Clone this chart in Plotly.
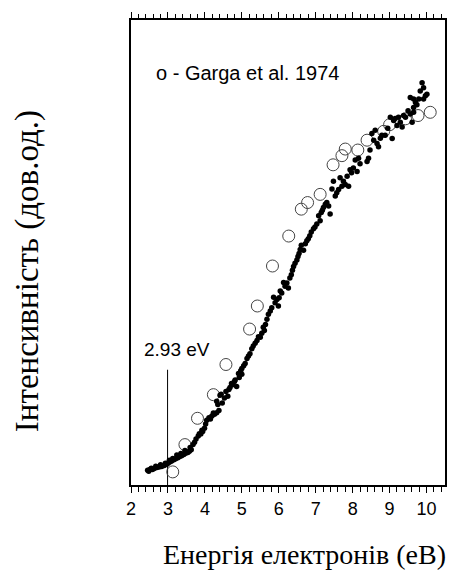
import plotly.graph_objects as go

# Experimental data (black dots): energy in eV, intensity in arbitrary units
dots_x = [2.45, 2.51, 2.58, 2.63, 2.70, 2.76, 2.83, 2.90, 2.97, 3.01, 3.06, 3.10, 3.16, 3.21, 3.27,
          3.32, 3.37, 3.43, 3.48, 3.54, 3.58, 3.63, 3.72, 3.76, 3.82, 3.89, 3.94, 3.99, 4.05, 4.11,
          4.19, 4.26, 4.32, 4.38, 4.35, 4.32, 4.41, 4.47, 4.53, 4.62, 4.68, 4.75, 4.80, 4.86, 4.93,
          5.00, 4.82, 4.91, 5.00, 5.09, 5.14, 5.22, 5.27, 5.36, 5.41, 5.50, 5.54, 5.61, 5.68, 5.72,
          5.77, 5.81, 5.90, 5.95, 6.01, 5.99, 6.08, 6.17, 6.22, 6.26, 6.34, 6.40, 6.44, 6.49, 6.55,
          6.61, 6.67, 6.72, 6.80, 6.88, 6.94, 7.03, 7.12, 7.08, 7.15, 7.21, 7.30, 7.39, 7.35, 7.53,
          7.57, 7.62, 7.71, 7.80, 7.89, 7.48, 7.75, 7.85, 7.93, 8.02, 8.12, 8.07, 8.16, 8.39, 8.43,
          8.52, 8.61, 8.66, 8.70, 8.79, 8.88, 9.07, 9.02, 9.11, 9.20, 9.29, 9.34, 9.24, 9.43, 9.56,
          9.65, 9.61, 9.65, 9.70, 9.56, 9.65, 9.79, 9.92, 9.97, 9.83, 10.01, 9.92, 9.88,
          2.48, 2.55, 2.67, 2.80, 2.93, 3.04, 3.13, 3.24, 3.35, 3.46, 3.60, 3.68, 3.85, 3.92,
          4.02, 4.15, 4.23, 4.44, 4.57, 4.65, 4.72, 4.97, 5.05, 5.18, 5.31, 5.45, 5.58, 5.64,
          5.86, 6.04, 6.13, 6.30, 6.37, 6.52, 6.58, 6.76, 6.84, 6.98, 7.18, 7.26, 7.44, 7.66,
          7.97, 8.20, 8.47, 8.57, 8.75, 8.95, 9.15, 9.38, 9.50, 9.74]
dots_y = [15.0, 15.7, 15.7, 16.7, 17.7, 18.3, 18.7, 19.7, 21.0, 22.3, 23.7, 24.3, 25.7, 26.7, 27.7,
          29.0, 29.7, 31.0, 32.3, 33.0, 34.3, 35.7, 43.3, 46.7, 49.7, 51.7, 54.3, 57.7, 65.7, 68.3,
          70.0, 71.7, 73.3, 75.7, 81.7, 85.0, 91.0, 83.3, 88.3, 90.0, 99.0, 101.7, 105.0, 100.0, 109.0,
          112.3, 106.7, 113.3, 118.3, 123.3, 128.3, 133.3, 138.3, 144.0, 146.7, 150.0, 154.0, 156.7, 168.3, 173.3,
          176.7, 180.0, 185.0, 188.3, 190.0, 181.7, 195.0, 201.7, 205.0, 200.0, 213.3, 221.7, 225.0, 228.3, 235.0,
          243.3, 238.3, 245.0, 250.0, 256.7, 260.0, 265.0, 268.3, 273.3, 276.7, 281.7, 286.7, 275.0, 283.3, 293.3,
          296.7, 300.0, 303.3, 305.0, 303.3, 308.3, 308.3, 313.3, 320.0, 321.7, 318.3, 330.0, 331.7, 328.3, 331.7,
          356.7, 360.0, 346.7, 343.3, 355.0, 355.0, 351.7, 373.3, 370.0, 365.0, 368.3, 363.3, 373.3, 373.3, 376.7,
          378.3, 368.3, 383.3, 388.3, 393.3, 391.7, 391.7, 391.7, 395.0, 400.0, 396.7, 403.3, 408.3,
          14.0, 17.0, 19.0, 20.5, 22.0, 25.0, 27.0, 30.5, 32.0, 35.0, 38.0, 41.0, 52.0, 55.5,
          62.0, 67.0, 73.0, 92.0, 95.0, 97.0, 103.0, 116.0, 121.0, 131.0, 141.0, 150.5, 160.0, 163.0,
          190.5, 197.0, 205.5, 210.0, 218.0, 232.0, 239.0, 248.0, 253.0, 262.0, 279.0, 285.0, 300.5, 312.0,
          317.0, 326.0, 340.0, 350.0, 352.0, 362.0, 372.0, 375.0, 380.0, 386.0]

# Garga et al. 1974 (open circles)
garga_x = [3.13, 3.46, 3.80, 4.23, 4.57, 5.21, 5.42, 5.83, 6.27, 6.61, 6.78, 7.12, 7.47, 7.71,
           7.80, 8.14, 8.39, 8.84, 9.00, 9.43, 9.77, 10.10]
garga_y = [13.3, 41.0, 67.7, 91.7, 122.3, 158.3, 181.7, 222.3, 252.7, 280.0, 286.7, 295.0, 325.0, 334.3,
           341.0, 340.0, 350.0, 359.0, 365.7, 371.7, 375.0, 378.3]

# Threshold marker
threshold_x = [2.99, 2.99]
threshold_y = [0, 117]

x_range = [2, 10.5]
y_range = [0, 472]

fig = go.Figure()
fig.add_trace(go.Scatter(x=threshold_x, y=threshold_y, mode="lines",
                         line=dict(color="black", width=1), showlegend=False, hoverinfo="skip"))
fig.add_trace(go.Scatter(x=garga_x, y=garga_y, mode="markers",
                         marker=dict(symbol="circle-open", size=12, color="#444444",
                                     line=dict(width=1, color="#444444")),
                         showlegend=False))
fig.add_trace(go.Scatter(x=dots_x, y=dots_y, mode="markers",
                         marker=dict(symbol="circle", size=5.5, color="black"),
                         showlegend=False))

tickfont = dict(family="Liberation Sans, Arial, sans-serif", size=18, color="black")
labelfont = dict(family="Liberation Sans, Arial, sans-serif", size=20, color="black")
fig.update_layout(
    width=476, height=577,
    margin=dict(l=131, r=31, t=13, b=92),
    paper_bgcolor="white", plot_bgcolor="white",
    xaxis=dict(range=x_range, tickmode="linear", tick0=2, dtick=1,
               ticks="outside", ticklen=6, tickwidth=1, tickcolor="black",
               minor=dict(ticks="outside", dtick=0.2, ticklen=4.5, tickwidth=1, tickcolor="black"),
               showline=True, linecolor="black", linewidth=2, mirror="allticks",
               showgrid=False, zeroline=False, tickfont=tickfont),
    yaxis=dict(range=y_range, showticklabels=False, ticks="",
               showline=True, linecolor="black", linewidth=2, mirror=True,
               showgrid=False, zeroline=False),
    annotations=[
        dict(x=2.62, y=418, xref="x", yref="y", text="o - Garga et al. 1974", showarrow=False,
             xanchor="left", yanchor="middle", font=labelfont),
        dict(x=2.30, y=138, xref="x", yref="y", text="2.93 eV", showarrow=False,
             xanchor="left", yanchor="middle", font=dict(tickfont, size=19)),
        dict(x=0.551, y=-0.150, xref="paper", yref="paper", text="Енергія електронів (eВ)",
             showarrow=False, xanchor="center", yanchor="middle",
             font=dict(family="Liberation Serif, Times New Roman, serif", size=28, color="black")),
        dict(x=-0.331, y=0.460, xref="paper", yref="paper", text="Інтенсивність (дов.од.)",
             showarrow=False, xanchor="center", yanchor="middle", textangle=-90,
             font=dict(family="Liberation Serif, Times New Roman, serif", size=33, color="black")),
    ],
)

fig.write_html("out.html")
